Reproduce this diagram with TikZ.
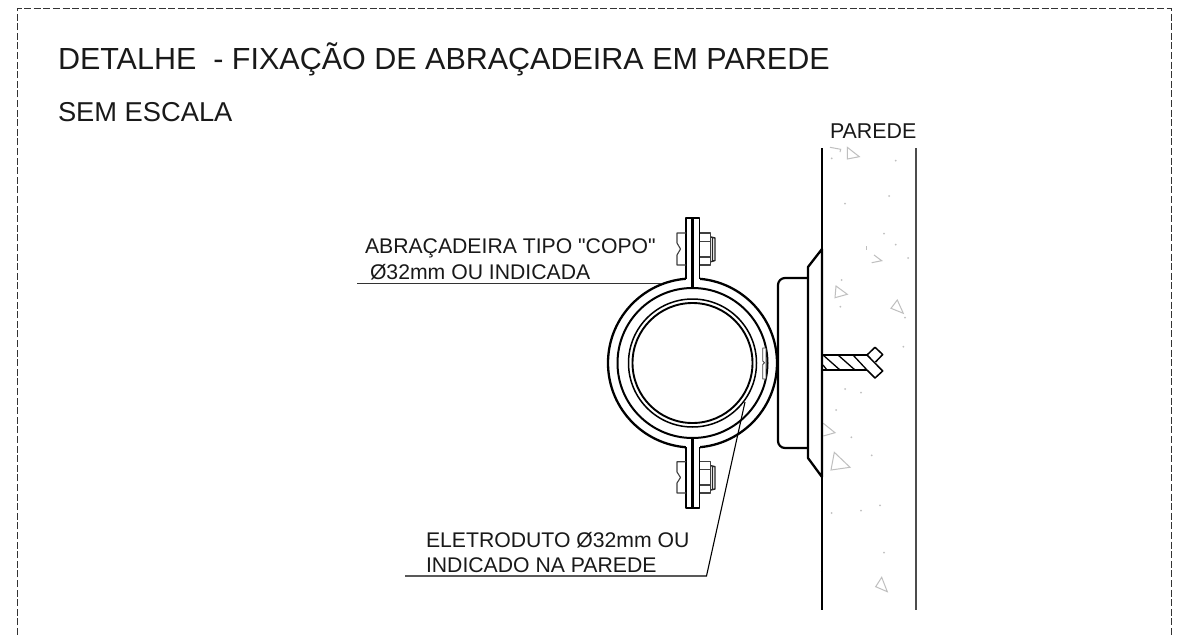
\documentclass[tikz,border=0pt]{standalone}
\usepackage{fontspec}
\newfontfamily\plainfont{Liberation Sans}
\newcommand\tsz[1]{\plainfont\fontsize{#1}{#1}\selectfont}
\tikzset{
  txt/.style={anchor=base west,inner sep=0pt,outer sep=0pt,text=black!90},
  hvy/.style={draw=black,line width=2.3pt,line join=round},
  med/.style={draw=black,line width=1.7pt,line join=round},
  thn/.style={draw=black!75,line width=1.1pt,line join=round},
  lead/.style={draw=black!80,line width=1.1pt},
  agg/.style={draw=black!25,line width=1pt,line join=miter},
  dot/.style={fill=black!25,draw=none},
  border/.style={draw=black!80,line width=1pt,dash pattern=on 7pt off 2.6pt}
}
\begin{document}
\begin{tikzpicture}[x=1pt,y=-1pt]
\path[use as bounding box,fill=white] (0,0) rectangle (1187,635);
% border
\draw[border] (17,635) -- (17,8.5) -- (1171,8.5) -- (1171,635);
% texts
\node[txt,font=\tsz{30.5}] (title) at (58,69.5) {DETALHE\ \ - FIXAÇÃO DE ABRAÇADEIRA EM PAREDE};
\node[txt,font=\tsz{27.3}] (esc) at (58,121) {SEM ESCALA};
\node[txt,font=\tsz{21.4}] (par) at (830,138) {PAREDE};
\node[txt,font=\tsz{21.2}] (l1) at (365,253) {ABRAÇADEIRA TIPO "COPO"};
\node[txt,font=\tsz{21.2}] (l2) at (370,279) {Ø32mm OU INDICADA};
\node[txt,font=\tsz{21.2}] (l3) at (426,547) {ELETRODUTO Ø32mm OU};
\node[txt,font=\tsz{21.2}] (l4) at (426,572) {INDICADO NA PAREDE};
% aggregates
\draw[agg] (847.3,147.3)--(859.3,156.7)--(847.3,159)--cycle;
\draw[agg] (830,147.3)--(840.7,149.3)--(840,152);
\draw[agg] (836,286)--(847.3,294.3)--(835,297.7)--cycle;
\draw[agg] (897.3,300)--(903.3,313.3)--(891,308.3)--cycle;
\draw[agg] (874,255)--(881.7,260.7)--(871.7,262.7);
\draw[agg] (866,246)--(866,250);
\draw[agg] (823.3,423.3)--(835,432.7)--(823.3,436);
\draw[agg] (834.3,452.3)--(850,467.3)--(831,470)--cycle;
\draw[agg] (881.7,577.3)--(887.3,591.7)--(875.7,586.7)--cycle;
\foreach \p in {(831.7,158.3),(895.7,160.7),(889,196),(845,203.7),(884,233.7),(895.7,244.7),(908,258),(841.7,280),(840.3,306.7),(905,317.7),(903.3,346.7),(845,389),(861,392.7),(836,410),(851.3,437.3),(871.7,455.3),(880,505.3),(861,510.7),(831.7,513),(884,552.7),(821.7,571.7)}
  \fill[dot] \p circle (1pt);
% wall
\draw[thn,draw=black] (822,148) -- (822,610);
\draw[thn,line width=1.5pt,draw=black!70] (916,148) -- (916,610);
% base plate and flange
\draw[hvy,line width=2.2pt,rounded corners=7pt] (808,278) -- (778,278) -- (778,448) -- (808,448);
\draw[hvy] (822,249) -- (808,267) -- (808,458) -- (822,477) -- cycle;
% screw
\draw[med,line width=1.4pt] (822,355) -- (867,355) (822,370) -- (867,370);
\draw[med,line width=1.3pt] (823,355) -- (840,370) (838,355) -- (855,370) (853,355) -- (867,370) (823,365) -- (827,370);
\draw[med,line width=1.5pt] (867,355) -- (875,347.3) -- (882.7,354.5) -- (875.5,362);
\draw[med,line width=1.5pt] (867,355) -- (882.7,371) -- (875,378) -- (867,370);
% tube circles
\draw[hvy] (692.5,363) circle (84.5);
\draw[hvy,line width=2pt] (692.5,363) circle (75);
\draw[med,line width=1.5pt] (692.5,363) circle (64);
\draw[hvy,line width=1.9pt] (692.5,363) circle (60);
% clip on tube
\fill[white] (762.7,348) rectangle (766,379);
\draw[thn,line width=.9pt] (762.7,348) -- (766,348) -- (766,379) -- (762.7,379) -- (762.7,364.5) -- (764.5,362.7) -- (762.7,361) -- cycle;
% top ear
\fill[white] (686,218) rectangle (699.5,287);
\draw[med] (686,279) -- (686,218) -- (699.5,218) -- (699.5,279);
\draw[hvy,line width=2.6pt] (692.7,218) -- (692.7,288);
% bottom ear
\fill[white] (686,439) rectangle (699.5,508);
\draw[med] (686,447) -- (686,508) -- (699.5,508) -- (699.5,447);
\draw[hvy,line width=2.6pt] (692.7,438) -- (692.7,508);
% nuts, top
\draw[thn] (686,233) -- (677,233) -- (677,243) -- (680.5,249) -- (677,255) -- (677,265) -- (686,265);
\draw[thn] (700,233) -- (710.7,233) -- (710.7,265) -- (700,265) (700,241.7) -- (710.7,241.7) (700,257) -- (710.7,257);
\draw[thn,line width=1.4pt,draw=black!85] (711,237) -- (715,238) -- (715,260.5) -- (711,261.7) (712.5,238) -- (712.5,261);
% nuts, bottom
\draw[thn] (686,461.7) -- (677,461.7) -- (677,472) -- (680.5,477.5) -- (677,483) -- (677,493) -- (686,493);
\draw[thn] (700,461.7) -- (710.7,461.7) -- (710.7,493) -- (700,493) (700,469.7) -- (710.7,469.7) (700,485) -- (710.7,485);
\draw[thn,line width=1.4pt,draw=black!85] (711,465.7) -- (715,466.7) -- (715,489) -- (711,490) (712.5,466.7) -- (712.5,489.5);
% leaders
\coordinate (a0) at (357,283.7);
\coordinate (a1) at (661,283.7);
\draw[lead] (a0) -- (a1);
\coordinate (b0) at (405,576);
\coordinate (b1) at (706.5,576);
\coordinate (b2) at (745,402);
\draw[lead,draw=black] (b0) -- (b1) -- (b2);
\end{tikzpicture}
\end{document}
